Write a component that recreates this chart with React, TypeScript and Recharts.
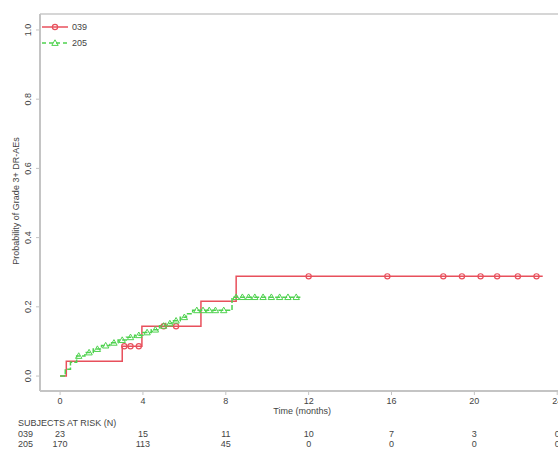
import React from "react"
import {
  ComposedChart,
  Line,
  Scatter,
  XAxis,
  YAxis,
} from "recharts"

// cumulative incidence, arm 039 (step points)
const arm039Steps = [
  { t: 0, v: 0 },
  { t: 0.3, v: 0.043 },
  { t: 3.0, v: 0.086 },
  { t: 3.95, v: 0.144 },
  { t: 6.8, v: 0.216 },
  { t: 8.5, v: 0.288 },
  { t: 23.3, v: 0.288 },
]

// censor marks, arm 039
const arm039Censor = [
  { t: 3.1, v: 0.086 },
  { t: 3.4, v: 0.086 },
  { t: 3.8, v: 0.086 },
  { t: 5.0, v: 0.144 },
  { t: 5.6, v: 0.144 },
  { t: 12.0, v: 0.288 },
  { t: 15.8, v: 0.288 },
  { t: 18.5, v: 0.288 },
  { t: 19.4, v: 0.288 },
  { t: 20.3, v: 0.288 },
  { t: 21.1, v: 0.288 },
  { t: 22.1, v: 0.288 },
  { t: 23.0, v: 0.288 },
]

// cumulative incidence, arm 205 (step points)
const arm205Steps = [
  { t: 0, v: 0 },
  { t: 0.25, v: 0.02 },
  { t: 0.5, v: 0.04 },
  { t: 0.8, v: 0.058 },
  { t: 1.2, v: 0.068 },
  { t: 1.6, v: 0.078 },
  { t: 2.0, v: 0.088 },
  { t: 2.4, v: 0.096 },
  { t: 2.8, v: 0.104 },
  { t: 3.2, v: 0.112 },
  { t: 3.6, v: 0.118 },
  { t: 4.0, v: 0.126 },
  { t: 4.4, v: 0.134 },
  { t: 4.8, v: 0.145 },
  { t: 5.1, v: 0.152 },
  { t: 5.4, v: 0.16 },
  { t: 5.8, v: 0.17 },
  { t: 6.1, v: 0.18 },
  { t: 6.4, v: 0.19 },
  { t: 8.3, v: 0.228 },
  { t: 11.6, v: 0.228 },
]

// censor marks, arm 205
const arm205Censor = [
  { t: 0.9, v: 0.058 },
  { t: 1.4, v: 0.068 },
  { t: 1.8, v: 0.078 },
  { t: 2.2, v: 0.088 },
  { t: 2.6, v: 0.096 },
  { t: 3.0, v: 0.104 },
  { t: 3.4, v: 0.112 },
  { t: 3.8, v: 0.118 },
  { t: 4.2, v: 0.126 },
  { t: 4.6, v: 0.134 },
  { t: 5.0, v: 0.145 },
  { t: 5.3, v: 0.152 },
  { t: 5.6, v: 0.16 },
  { t: 6.0, v: 0.17 },
  { t: 6.6, v: 0.19 },
  { t: 6.9, v: 0.19 },
  { t: 7.2, v: 0.19 },
  { t: 7.5, v: 0.19 },
  { t: 7.9, v: 0.19 },
  { t: 8.5, v: 0.228 },
  { t: 8.8, v: 0.228 },
  { t: 9.1, v: 0.228 },
  { t: 9.4, v: 0.228 },
  { t: 9.8, v: 0.228 },
  { t: 10.2, v: 0.228 },
  { t: 10.6, v: 0.228 },
  { t: 11.0, v: 0.228 },
  { t: 11.4, v: 0.228 },
]

const xTicks = [0, 4, 8, 12, 16, 20, 24]
const yTicks = [0, 0.2, 0.4, 0.6, 0.8, 1.0]
const armNames = ["039", "205"]
const risk039 = [23, 15, 11, 10, 7, 3, 0]
const risk205 = [170, 113, 45, 0, 0, 0, 0]

const RED = "#e8505c"
const GREEN = "#4fd24f"
const TEXT = "#444"
const AXIS = "#c4c4c4"
const FONT = "'Liberation Sans', Arial, sans-serif"

function XTick(props: any) {
  const { x, y, payload, index } = props
  return (
    <g fontFamily={FONT} fontSize={9} fill={TEXT}>
      <text x={x} y={y + 7} textAnchor="middle">{payload.value}</text>
      <text x={x} y={y + 40} textAnchor="middle">{risk039[index]}</text>
      <text x={x} y={y + 50} textAnchor="middle">{risk205[index]}</text>
      {index === 0 && (
        <g>
          <text x={x + 242} y={y + 17} textAnchor="middle">Time (months)</text>
          <text x={x - 42} y={y + 29}>SUBJECTS AT RISK (N)</text>
          <text x={x - 42} y={y + 40}>{armNames[0]}</text>
          <text x={x - 42} y={y + 50}>{armNames[1]}</text>
        </g>
      )}
    </g>
  )
}

function YTick(props: any) {
  const { x, y, payload } = props
  const bx = x - 3
  return (
    <text
      x={bx}
      y={y}
      transform={`rotate(-90, ${bx}, ${y})`}
      textAnchor="middle"
      fontFamily={FONT}
      fontSize={9}
      fill={TEXT}
    >
      {payload.value.toFixed(1)}
    </text>
  )
}

function Circle(props: any) {
  const { cx, cy } = props
  return <circle cx={cx} cy={cy} r={2.6} fill="none" stroke={RED} strokeWidth={1.2} />
}

function Tri(props: any) {
  const { cx, cy } = props
  return (
    <path
      d={`M${cx},${cy - 3.2} L${cx + 3.2},${cy + 2.4} L${cx - 3.2},${cy + 2.4} Z`}
      fill="none"
      stroke={GREEN}
      strokeWidth={1}
    />
  )
}

export default function App() {
  return (
    <div
      style={{
        position: "absolute",
        left: 0,
        top: 0,
        width: 558,
        height: 451,
        overflow: "hidden",
        background: "#fff",
      }}
    >
      <ComposedChart
        width={580}
        height={451}
        margin={{ top: 14, right: 0, bottom: 0, left: 0 }}
      >
        <line x1={40} y1={14} x2={580} y2={14} stroke="#d6d6d6" strokeWidth={2} />
        <text
          x={19}
          y={201}
          transform="rotate(-90, 19, 201)"
          textAnchor="middle"
          fontFamily={FONT}
          fontSize={9}
          fill={TEXT}
        >
          Probability of Grade 3+ DR-AEs
        </text>

        {/* legend */}
        <g fontFamily={FONT} fontSize={9}>
          <line x1={42} y1={27} x2={68} y2={27} stroke={RED} strokeWidth={1.5} />
          <circle cx={55} cy={27} r={2.6} fill="none" stroke={RED} strokeWidth={1.2} />
          <text x={72} y={30} fill={TEXT}>{armNames[0]}</text>
          <line x1={42} y1={43} x2={68} y2={43} stroke={GREEN} strokeWidth={1.5} strokeDasharray="4 3" />
          <path d="M55,39.8 L58.2,45.4 L51.8,45.4 Z" fill="none" stroke={GREEN} strokeWidth={1} />
          <text x={72} y={46} fill={TEXT}>{armNames[1]}</text>
        </g>

        <XAxis
          type="number"
          dataKey="t"
          domain={[-0.97, 25.1]}
          ticks={xTicks}
          allowDataOverflow
          height={60}
          axisLine={{ stroke: AXIS, strokeWidth: 2 }}
          tickLine={{ stroke: AXIS }}
          tickSize={4}
          tick={<XTick />}
          interval={0}
        />
        <YAxis
          type="number"
          dataKey="v"
          domain={[-0.0432, 1.0461]}
          ticks={yTicks}
          allowDataOverflow
          width={40}
          axisLine={{ stroke: AXIS, strokeWidth: 2 }}
          tickLine={{ stroke: AXIS }}
          tickSize={4}
          tick={<YTick />}
          interval={0}
        />
        <Line
          data={arm039Steps}
          dataKey="v"
          type="stepAfter"
          stroke={RED}
          strokeWidth={1.5}
          dot={false}
          isAnimationActive={false}
        />
        <Line
          data={arm205Steps}
          dataKey="v"
          type="stepAfter"
          stroke={GREEN}
          strokeWidth={1.5}
          strokeDasharray="5 2"
          dot={false}
          isAnimationActive={false}
        />
        <Scatter
          data={arm039Censor}
          dataKey="v"
          shape={<Circle />}
          isAnimationActive={false}
        />
        <Scatter
          data={arm205Censor}
          dataKey="v"
          shape={<Tri />}
          isAnimationActive={false}
        />
      </ComposedChart>
    </div>
  )
}
